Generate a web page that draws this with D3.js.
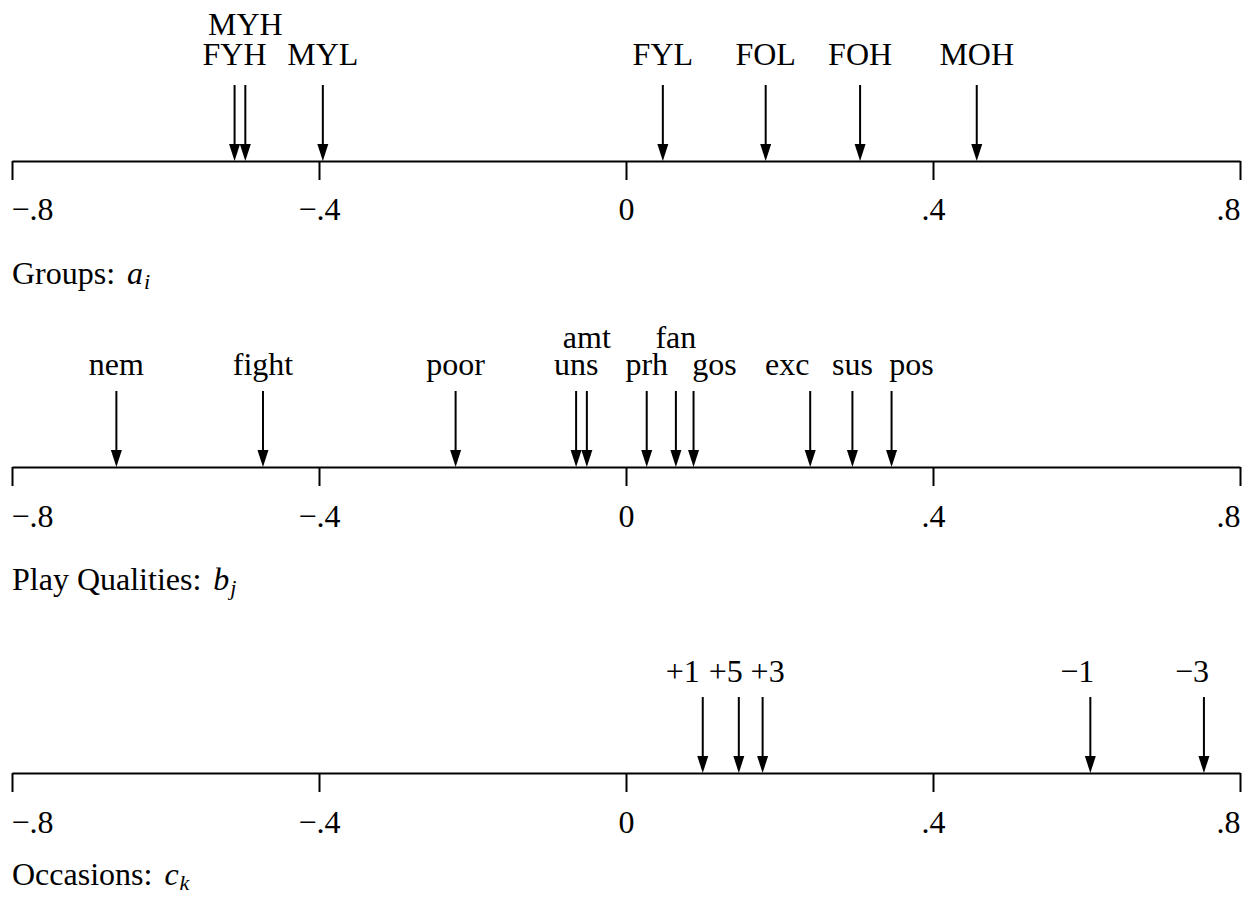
<!DOCTYPE html>
<html>
<head>
<meta charset="utf-8">
<script src="https://cdn.jsdelivr.net/npm/d3@7"></script>
<style>
  html, body { margin: 0; padding: 0; background: #fff; }
  svg { display: block; }
</style>
</head>
<body>
<script>
// Estimated effects on a common scale
const groupNames = ["FYH", "MYH", "MYL", "FYL", "FOL", "FOH", "MOH"];
const groupValues = [-0.510, -0.496, -0.395, 0.048, 0.182, 0.305, 0.457];

const qualityNames = ["nem", "fight", "poor", "uns", "amt", "prh", "fan", "gos", "exc", "sus", "pos"];
const qualityValues = [-0.664, -0.473, -0.222, -0.065, -0.051, 0.027, 0.065, 0.088, 0.240, 0.295, 0.346];

const occasionNames = ["+1", "+5", "+3", "\u22121", "\u22123"];
const occasionValues = [0.100, 0.147, 0.178, 0.605, 0.753];

const tickValues = [-0.8, -0.4, 0, 0.4, 0.8];
const tickLabels = ["\u2212.8", "\u2212.4", "0", ".4", ".8"];

// Layout for the three strips
const W = 1247, H = 907;
const FONT = "'Liberation Serif', 'Times New Roman', serif";
const FS = 32;
const panels = [
  { title: "Groups:", sym: "a", sub: "i", names: groupNames, values: groupValues,
    lineY: 161, labelGap: 96, rowStep: 30, tickGap: 59, titleGap: 123,
    raised: ["MYH"], nudge: {} },
  { title: "Play Qualities:", sym: "b", sub: "j", names: qualityNames, values: qualityValues,
    lineY: 467, labelGap: 92, rowStep: 27, tickGap: 60, titleGap: 123,
    raised: ["amt", "fan"], nudge: { "gos": 21, "exc": -23, "pos": 20 } },
  { title: "Occasions:", sym: "c", sub: "k", names: occasionNames, values: occasionValues,
    lineY: 773, labelGap: 91, rowStep: 27, tickGap: 60, titleGap: 112,
    raised: [], nudge: { "+1": -20, "+5": -13, "+3": 5, "\u22121": -13, "\u22123": -12 } }
];
const shaft = 76, headLen = 17, headHalf = 5.5, tickLen = 19;

const x = d3.scaleLinear().domain([-0.8, 0.8]).range([12, 1240]);

const svg = d3.select("body").append("svg")
  .attr("width", W).attr("height", H)
  .style("font-family", FONT);

panels.forEach(p => {
  const g = svg.append("g");

  // Axis line with downward ticks
  const axis = d3.axisBottom(x)
    .tickValues(tickValues)
    .tickSize(tickLen)
    .tickSizeOuter(0)
    .tickFormat((d, i) => tickLabels[i]);

  const ax = g.append("g")
    .attr("transform", `translate(0,${p.lineY})`)
    .call(axis);
  ax.select(".domain").attr("stroke", "#000").attr("stroke-width", 2);
  ax.selectAll(".tick line").attr("stroke", "#000").attr("stroke-width", 2);
  ax.selectAll(".tick text")
    .attr("y", p.tickGap).attr("dy", 0)
    .attr("fill", "#000")
    .style("font-family", FONT).style("font-size", FS + "px")
    .attr("text-anchor", (d, i) => i === 0 ? "start" : (i === tickValues.length - 1 ? "end" : "middle"))
    .attr("dx", (d, i) => i === 0 ? -1 : 0);

  // Arrows pointing down onto the axis
  const items = p.names.map((n, i) => ({ name: n, v: p.values[i] }));
  const arr = g.selectAll("g.arrow").data(items).enter().append("g").attr("class", "arrow");
  arr.append("line")
    .attr("x1", d => x(d.v)).attr("x2", d => x(d.v))
    .attr("y1", p.lineY - shaft).attr("y2", p.lineY - headLen + 2)
    .attr("stroke", "#000").attr("stroke-width", 2);
  arr.append("path")
    .attr("d", d => {
      const cx = x(d.v);
      return `M${cx - headHalf},${p.lineY - headLen}L${cx + headHalf},${p.lineY - headLen}L${cx},${p.lineY}Z`;
    })
    .attr("fill", "#000");
  arr.append("text")
    .attr("x", d => x(d.v) + (p.nudge[d.name] || 0))
    .attr("y", d => p.lineY - p.labelGap - (p.raised.includes(d.name) ? p.rowStep : 0))
    .attr("text-anchor", "middle")
    .style("font-size", FS + "px")
    .text(d => d.name);

  // Strip title with italic subscripted symbol
  const t = g.append("text")
    .attr("x", 12).attr("y", p.lineY + p.titleGap)
    .style("font-size", FS + "px");
  t.append("tspan").text(p.title);
  t.append("tspan").attr("dx", 12).style("font-style", "italic").text(p.sym);
  t.append("tspan").style("font-style", "italic").style("font-size", "22px")
    .attr("dx", 1).attr("dy", 5).text(p.sub);
});
</script>
</body>
</html>
